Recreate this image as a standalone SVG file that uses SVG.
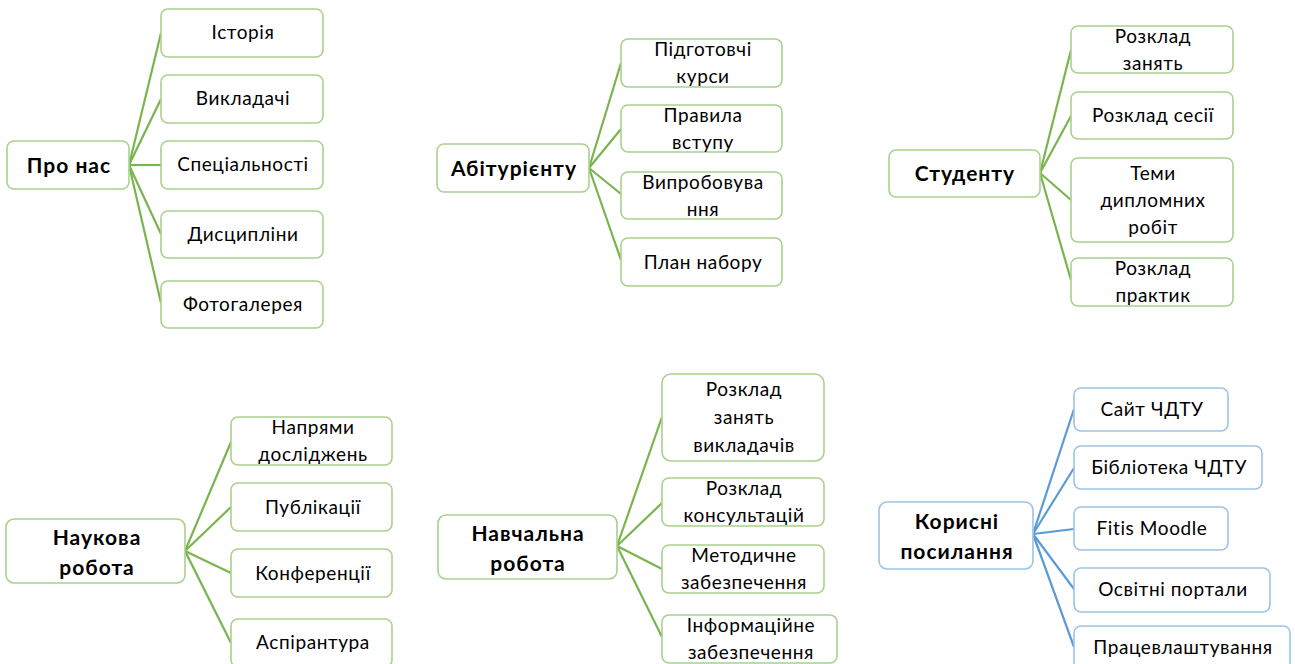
<svg xmlns="http://www.w3.org/2000/svg" width="1295" height="664" viewBox="0 0 1295 664">
<style>
rect{fill:#fff;stroke-width:1.6}
.g rect{stroke:#a9d18e}
.b rect{stroke:#9dc3e6}
text{font-family:Lato,"Liberation Sans",sans-serif;font-size:19px;letter-spacing:0.6px;fill:#000;text-anchor:middle}
.m text{font-weight:bold;font-size:21px;letter-spacing:1px}
#conn line{stroke-width:2.2}
#conn .lg line{stroke:#7ab44f}
#conn .lb line{stroke:#5b9bd5}
</style>
<rect x="0" y="0" width="1295" height="664" style="fill:#fff;stroke:none"/>
<g id="conn">
<g class="lg">
<line x1="129" y1="165" x2="161" y2="33"/>
<line x1="129" y1="165" x2="161" y2="99"/>
<line x1="129" y1="165" x2="161" y2="165"/>
<line x1="129" y1="165" x2="161" y2="234"/>
<line x1="129" y1="165" x2="161" y2="303"/>
<line x1="589" y1="168" x2="621" y2="63"/>
<line x1="589" y1="168" x2="621" y2="129"/>
<line x1="589" y1="168" x2="621" y2="194"/>
<line x1="589" y1="168" x2="621" y2="260"/>
<line x1="1040" y1="173" x2="1071" y2="50"/>
<line x1="1040" y1="173" x2="1071" y2="116"/>
<line x1="1040" y1="173" x2="1071" y2="200"/>
<line x1="1040" y1="173" x2="1071" y2="280"/>
<line x1="185" y1="551" x2="231" y2="442"/>
<line x1="185" y1="551" x2="231" y2="507"/>
<line x1="185" y1="551" x2="231" y2="573"/>
<line x1="185" y1="551" x2="231" y2="643"/>
<line x1="617" y1="546" x2="662" y2="417"/>
<line x1="617" y1="546" x2="662" y2="503"/>
<line x1="617" y1="546" x2="662" y2="569"/>
<line x1="617" y1="546" x2="662" y2="637"/>
</g>
<g class="lb">
<line x1="1033" y1="534" x2="1074" y2="409"/>
<line x1="1033" y1="534" x2="1074" y2="468"/>
<line x1="1033" y1="534" x2="1074" y2="529"/>
<line x1="1033" y1="534" x2="1074" y2="589"/>
<line x1="1033" y1="534" x2="1074" y2="647"/>
</g>
</g>

<g id="n-pro" class="g m"><rect x="7" y="141" width="122" height="48" rx="7"/><text x="69" y="173">Про нас</text></g>
<g id="n-istoriya" class="g"><rect x="161" y="9" width="162" height="48" rx="7"/><text x="243" y="39">Історія</text></g>
<g id="n-vykladachi" class="g"><rect x="161" y="75" width="162" height="48" rx="7"/><text x="243" y="105">Викладачі</text></g>
<g id="n-spets" class="g"><rect x="161" y="141" width="162" height="48" rx="7"/><text x="243" y="171">Спеціальності</text></g>
<g id="n-dysc" class="g"><rect x="161" y="211" width="162" height="47" rx="7"/><text x="243" y="241">Дисципліни</text></g>
<g id="n-foto" class="g"><rect x="161" y="281" width="162" height="47" rx="7"/><text x="243" y="311">Фотогалерея</text></g>

<g id="n-abit" class="g m"><rect x="437" y="144" width="152" height="48" rx="7"/><text x="514" y="176">Абітурієнту</text></g>
<g id="n-pidg" class="g"><rect x="621" y="39" width="161" height="48" rx="7"/><text x="703" y="56">Підготовчі</text><text x="703" y="83">курси</text></g>
<g id="n-prav" class="g"><rect x="621" y="105" width="161" height="47" rx="7"/><text x="703" y="122">Правила</text><text x="703" y="149">вступу</text></g>
<g id="n-vypr" class="g"><rect x="621" y="172" width="161" height="47" rx="7"/><text x="703" y="189">Випробовува</text><text x="703" y="216">ння</text></g>
<g id="n-plan" class="g"><rect x="621" y="238" width="161" height="48" rx="7"/><text x="703" y="269">План набору</text></g>

<g id="n-stud" class="g m"><rect x="889" y="150" width="151" height="47" rx="7"/><text x="965" y="181">Студенту</text></g>
<g id="n-rz" class="g"><rect x="1071" y="26" width="162" height="47" rx="7"/><text x="1153" y="43">Розклад</text><text x="1153" y="70">занять</text></g>
<g id="n-rs" class="g"><rect x="1071" y="92" width="162" height="47" rx="7"/><text x="1153" y="122">Розклад сесії</text></g>
<g id="n-tema" class="g"><rect x="1071" y="158" width="162" height="84" rx="7"/><text x="1153" y="180">Теми</text><text x="1153" y="207">дипломних</text><text x="1153" y="234">робіт</text></g>
<g id="n-rp" class="g"><rect x="1071" y="258" width="162" height="48" rx="7"/><text x="1153" y="275">Розклад</text><text x="1153" y="302">практик</text></g>

<g id="n-nauk" class="g m"><rect x="6" y="519" width="179" height="64" rx="8"/><text x="97" y="545">Наукова</text><text x="97" y="575">робота</text></g>
<g id="n-napr" class="g"><rect x="231" y="417" width="161" height="48" rx="7"/><text x="313" y="434">Напрями</text><text x="313" y="461">досліджень</text></g>
<g id="n-publ" class="g"><rect x="231" y="483" width="161" height="48" rx="7"/><text x="313" y="514">Публікації</text></g>
<g id="n-konf" class="g"><rect x="231" y="549" width="161" height="48" rx="7"/><text x="313" y="580">Конференції</text></g>
<g id="n-asp" class="g"><rect x="231" y="619" width="161" height="48" rx="7"/><text x="313" y="649">Аспірантура</text></g>

<g id="n-navch" class="g m"><rect x="438" y="515" width="179" height="64" rx="8"/><text x="528" y="541">Навчальна</text><text x="528" y="571">робота</text></g>
<g id="n-rzv" class="g"><rect x="662" y="374" width="162" height="87" rx="9"/><text x="744" y="396">Розклад</text><text x="744" y="424">занять</text><text x="744" y="452">викладачів</text></g>
<g id="n-rk" class="g"><rect x="662" y="478" width="162" height="48" rx="7"/><text x="744" y="495">Розклад</text><text x="744" y="522">консультацій</text></g>
<g id="n-met" class="g"><rect x="662" y="545" width="162" height="48" rx="7"/><text x="744" y="562">Методичне</text><text x="744" y="589">забезпечення</text></g>
<g id="n-inf" class="g"><rect x="662" y="615" width="175" height="48" rx="7"/><text x="751" y="632">Інформаційне</text><text x="751" y="659">забезпечення</text></g>

<g id="n-kor" class="b m"><rect x="879" y="502" width="154" height="67" rx="8"/><text x="957" y="529">Корисні</text><text x="957" y="559">посилання</text></g>
<g id="n-sait" class="b"><rect x="1074" y="388" width="154" height="43" rx="7"/><text x="1152" y="416">Сайт ЧДТУ</text></g>
<g id="n-bibl" class="b"><rect x="1074" y="446" width="188" height="43" rx="7"/><text x="1169" y="474">Бібліотека ЧДТУ</text></g>
<g id="n-fitis" class="b"><rect x="1074" y="507" width="154" height="43" rx="7"/><text x="1152" y="535">Fitis Moodle</text></g>
<g id="n-osv" class="b"><rect x="1074" y="568" width="196" height="44" rx="7"/><text x="1173" y="596">Освітні портали</text></g>
<g id="n-prac" class="b"><rect x="1074" y="626" width="216" height="44" rx="7"/><text x="1183" y="654">Працевлаштування</text></g>
</svg>
